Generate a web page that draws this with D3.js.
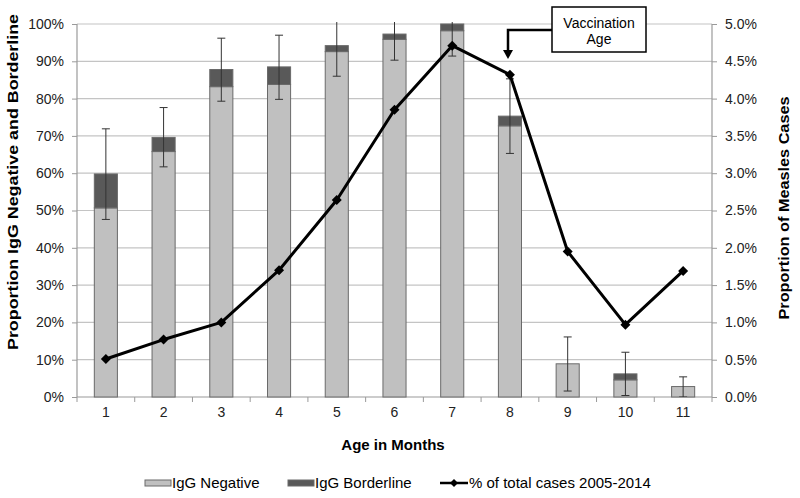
<!DOCTYPE html>
<html>
<head>
<meta charset="utf-8">
<script src="https://cdn.jsdelivr.net/npm/d3@7"></script>
<style>
  html, body { margin: 0; padding: 0; background: #fff; }
  svg { display: block; font-family: "Liberation Sans", Arial, sans-serif; }
</style>
</head>
<body>
<svg id="chart" width="800" height="498"></svg>
<script>
// ---- Data ----
const categories = ["1","2","3","4","5","6","7","8","9","10","11"];
const igNegative   = [0.507, 0.658, 0.832, 0.838, 0.926, 0.959, 0.982, 0.727, 0.089, 0.046, 0.028];
const igBorderline = [0.091, 0.038, 0.046, 0.047, 0.016, 0.014, 0.018, 0.026, 0.000, 0.016, 0.000];
const errLow  = [0.476, 0.617, 0.793, 0.798, 0.860, 0.903, 0.914, 0.653, 0.016, 0.004, 0.000];
const errHigh = [0.719, 0.776, 0.962, 0.970, 1.024, 1.043, 1.086, 0.853, 0.161, 0.120, 0.054];
const casesPct = [0.0051, 0.0077, 0.0100, 0.0170, 0.0264, 0.0385, 0.0471, 0.0432, 0.0195, 0.0097, 0.0169];
const leftTicks  = [0,0.1,0.2,0.3,0.4,0.5,0.6,0.7,0.8,0.9,1.0];
const rightTicks = [0,0.005,0.01,0.015,0.02,0.025,0.03,0.035,0.04,0.045,0.05];
const seriesNames = ["IgG Negative", "IgG Borderline", "% of total cases 2005-2014"];

// ---- Layout ----
const svg = d3.select("#chart");
const plot = {left: 77, right: 712, top: 24, bottom: 397};
const colNeg = "#c0c0c0", colBord = "#595959", gridCol = "#c4c4c4", axisCol = "#9a9a9a";

const x = d3.scaleBand().domain(categories).range([plot.left, plot.right])
  .paddingInner(0.6).paddingOuter(0.3);
const yL = d3.scaleLinear().domain([0, 1]).range([plot.bottom, plot.top]);
const yR = d3.scaleLinear().domain([0, 0.05]).range([plot.bottom, plot.top]);
const cx = c => x(c) + x.bandwidth() / 2;

svg.append("defs").append("clipPath").attr("id", "clip")
  .append("rect").attr("x", plot.left).attr("y", plot.top - 2)
  .attr("width", plot.right - plot.left).attr("height", plot.bottom - plot.top + 2);

// gridlines
svg.append("g").selectAll("line").data(leftTicks.slice(1)).join("line")
  .attr("x1", plot.left).attr("x2", plot.right)
  .attr("y1", d => yL(d)).attr("y2", d => yL(d))
  .attr("stroke", gridCol).attr("stroke-width", 1.2);

// left axis
const leftAxis = d3.axisLeft(yL).tickValues(leftTicks).tickSize(5).tickPadding(8)
  .tickFormat(d3.format(".0%"));
const gL = svg.append("g").attr("transform", `translate(${plot.left},0)`).call(leftAxis);
// right axis
const rightAxis = d3.axisRight(yR).tickValues(rightTicks).tickSize(5).tickPadding(8)
  .tickFormat(d3.format(".1%"));
const gR = svg.append("g").attr("transform", `translate(${plot.right},0)`).call(rightAxis);
// x axis: category labels, tick marks at boundaries
const xAxis = d3.axisBottom(x).tickSize(0).tickPadding(10);
const gX = svg.append("g").attr("transform", `translate(0,${plot.bottom})`).call(xAxis);
const step = x.step();
const bounds = d3.range(categories.length + 1).map(i => plot.left + i * step);
gX.selectAll(".bt").data(bounds).join("line").attr("class", "bt")
  .attr("x1", d => d).attr("x2", d => d).attr("y1", 0).attr("y2", 5)
  .attr("stroke", axisCol);

[gL, gR, gX].forEach(g => {
  g.select(".domain").attr("stroke", axisCol).attr("stroke-width", 1.2);
  g.selectAll(".tick line").attr("stroke", axisCol);
  g.selectAll("text").attr("font-size", 14).attr("fill", "#222")
    .attr("font-family", "'Liberation Sans', Arial, sans-serif");
});
gL.select(".domain").attr("d", `M-0,${plot.bottom}V${plot.top}`);
gR.select(".domain").attr("d", `M0,${plot.bottom}V${plot.top}`);
gX.select(".domain").attr("d", `M${plot.left},0H${plot.right}`);

// bars
const bars = svg.append("g");
bars.selectAll("rect.neg").data(categories).join("rect").attr("class", "neg")
  .attr("x", d => x(d)).attr("width", x.bandwidth())
  .attr("y", (d, i) => yL(igNegative[i]))
  .attr("height", (d, i) => yL(0) - yL(igNegative[i]))
  .attr("fill", colNeg).attr("stroke", "#6a6a6a").attr("stroke-width", 1);
bars.selectAll("rect.bord").data(categories.filter((d, i) => igBorderline[i] > 0)).join("rect").attr("class", "bord")
  .attr("x", d => x(d)).attr("width", x.bandwidth())
  .attr("y", d => { const i = categories.indexOf(d); return yL(igNegative[i] + igBorderline[i]); })
  .attr("height", d => { const i = categories.indexOf(d); return yL(igNegative[i]) - yL(igNegative[i] + igBorderline[i]); })
  .attr("fill", colBord).attr("stroke", "#6a6a6a").attr("stroke-width", 1);

// error bars
const eg = svg.append("g").attr("clip-path", "url(#clip)");
categories.forEach((c, i) => {
  const xc = cx(c);
  eg.append("line").attr("x1", xc).attr("x2", xc)
    .attr("y1", yL(errLow[i])).attr("y2", yL(errHigh[i]))
    .attr("stroke", "#333").attr("stroke-width", 1);
  [errLow[i], errHigh[i]].forEach(v => {
    eg.append("line").attr("x1", xc - 4).attr("x2", xc + 4)
      .attr("y1", yL(v)).attr("y2", yL(v))
      .attr("stroke", "#333").attr("stroke-width", 1);
  });
});

// line series
const line = d3.line().x((d, i) => cx(categories[i])).y(d => yR(d));
svg.append("path").datum(casesPct).attr("d", line)
  .attr("fill", "none").attr("stroke", "#000").attr("stroke-width", 3)
  .attr("stroke-linejoin", "round");
const diamond = s => `M0,${-s}L${s},0L0,${s}L${-s},0Z`;
svg.append("g").selectAll("path").data(casesPct).join("path")
  .attr("transform", (d, i) => `translate(${cx(categories[i])},${yR(d)})`)
  .attr("d", diamond(5)).attr("fill", "#000");

// axis titles
svg.append("text").attr("transform", "translate(18,182) rotate(-90)")
  .attr("text-anchor", "middle").attr("font-size", 15).attr("font-weight", "bold")
  .attr("textLength", 336).attr("lengthAdjust", "spacingAndGlyphs")
  .text("Proportion IgG Negative and Borderline");
svg.append("text").attr("transform", "translate(789,208) rotate(-90)")
  .attr("text-anchor", "middle").attr("font-size", 15).attr("font-weight", "bold")
  .attr("textLength", 223).attr("lengthAdjust", "spacingAndGlyphs")
  .text("Proportion of Measles Cases");
svg.append("text").attr("x", 393).attr("y", 450)
  .attr("text-anchor", "middle").attr("font-size", 15).attr("font-weight", "bold")
  .text("Age in Months");

// annotation
const ann = svg.append("g");
ann.append("path").attr("d", "M552,30H508V52")
  .attr("fill", "none").attr("stroke", "#000").attr("stroke-width", 2.5);
ann.append("path").attr("d", "M503,50L508,59L513,50Z").attr("fill", "#000");
ann.append("rect").attr("x", 552).attr("y", 7).attr("width", 94).attr("height", 45)
  .attr("fill", "#fff").attr("stroke", "#000").attr("stroke-width", 1.5);
ann.append("text").attr("x", 599).attr("y", 28).attr("text-anchor", "middle")
  .attr("font-size", 14).text("Vaccination");
ann.append("text").attr("x", 599).attr("y", 44).attr("text-anchor", "middle")
  .attr("font-size", 14).text("Age");

// legend
const lg = svg.append("g");
const ly = 483;
lg.append("rect").attr("x", 145).attr("y", ly - 3).attr("width", 26).attr("height", 6)
  .attr("fill", colNeg).attr("stroke", "#6a6a6a").attr("stroke-width", 1);
lg.append("text").attr("x", 172).attr("y", ly + 5).attr("font-size", 15).text(seriesNames[0]);
lg.append("rect").attr("x", 288).attr("y", ly - 3).attr("width", 26).attr("height", 6)
  .attr("fill", colBord).attr("stroke", "#6a6a6a").attr("stroke-width", 1);
lg.append("text").attr("x", 315).attr("y", ly + 5).attr("font-size", 15).text(seriesNames[1]);
lg.append("line").attr("x1", 440).attr("x2", 468).attr("y1", ly).attr("y2", ly)
  .attr("stroke", "#000").attr("stroke-width", 2.5);
lg.append("path").attr("transform", `translate(454,${ly})`).attr("d", diamond(4)).attr("fill", "#000");
lg.append("text").attr("x", 469).attr("y", ly + 5).attr("font-size", 15).text(seriesNames[2]);
</script>
</body>
</html>
